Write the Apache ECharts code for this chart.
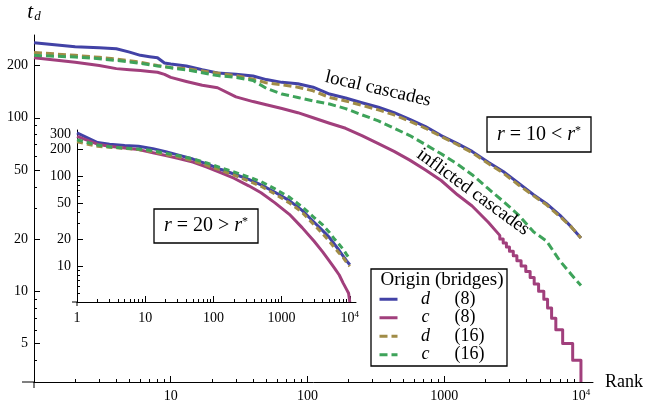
<!DOCTYPE html>
<html><head><meta charset="utf-8">
<script src="https://cdn.jsdelivr.net/npm/echarts@6/dist/echarts.min.js"></script>
<style>html,body{margin:0;padding:0;background:#fff}#c{width:650px;height:404px}</style>
</head><body><div id="c"></div>
<script>
const FONT = '"Liberation Serif", "DejaVu Serif", serif';

// ---- main panel (r = 10 < r*) ----
const mainRanks = [1,2,3,4,5,6,7,8,9,10,13,17,22,30,40,50,65,85,110,145,190,250,330,430,560,730,950,1250,1600,2100,2700,3500,4500,5600,7000,8500,10000];
const mainD8  = [271,257,253,250,239,229,225,222,207,204,199,189,181,178,174,166,160,157,150,137,130,122,115,107,98,89,79,71,64,55.5,49,42,36,32,27.5,23.5,20.3];
const mainD16 = [238,229,223,218,213,209,204,200,197,195,192,186,181,175,167,159,155,150,143,131,125,118,111,104,95.5,87,78,70,63,54.5,48,41,35.5,31.5,27,23.5,20.3];
const mainC16 = [229,224,219,214,210,206,202,199,197,194,189,182,175,171,164,148,137,131,125,120,113,104,96,87,79,70,62,54,47,39,33,27.5,22,19.5,15,12.5,10.8];
const mainC8Ranks = [1,2,3,4,5,6,7,8,9,10,13,17,22,30,40,50,65,85,110,145,190,250,330,430,560,730,950,1250,1600,2100,2420,2550,2550,2700,2700,2850,2850,3000,3000,3200,3200,3400,3400,3650,3650,3950,3950,4250,4250,4550,4550,4900,4900,5350,5350,5700,5700,6100,6100,6550,6550,7350,7350,8700,8700,10000,10000];
const mainC8 = [222,209,200,192,189,187,185,183,178,171,162,154,149,132,124,119,113,107,100,93,87,79,71,64,57,50,43.5,36,31,25,22,21,20,20,19,19,18,18,17,17,16,16,15,15,14,14,13,13,12,12,11,11,10,10,9,9,8,8,7,7,6,6,5,5,4,4,3];

// ---- inset panel (r = 20 > r*) ----
const insetRanks = [1,2,3,5,8,13,20,30,50,80,130,200,330,500,800,1300,2000,3000,4000,5000,6000,7000,8000,9000,10000];
const insetD8  = [307,240,230,222,218,205,190,175,157,139,120,107,93,81,67,54,42,31,25,21,17.5,15,13,11.5,10.4];
const insetD16 = [244,218,212,206,200,190,175,167,150,134,117,104,89,78,64,51,40,29,23,19,16,14,12.5,11,10];
const insetC16 = [258,225,215,208,203,195,182,172,158,142,125,113,99,88,73,59,46,35,29,24,20,17.5,15.5,13.5,12];
const insetC8Ranks = [1,2,3,5,8,13,20,30,50,80,130,200,330,500,800,1300,2000,3000,4000,5000,6000,7000,8000,9000,9600,10000];
const insetC8 = [281,230,218,208,200,185,172,160,145,128,110,96,79,66,51,38,27,19,14.5,11.5,9.5,8,6.5,5.5,5,4];

// ---- ticks ----
const mainXLabels = [10,100,1000,10000];
const mainYLabels = [5,10,20,50,100,200];
const mainYMinor = [3,4,6,7,8,9,30,40,60,70,80,90];
const insetXLabels = [1,10,100,1000,10000];
const insetXMajor = [10,100,1000,10000];
const insetYLabels = [10,20,50,100,200,300];
const insetYMinor = [5,6,7,8,9,30,40,60,70,80,90];
const xMinor = [2,3,4,5,6,7,8,9,20,30,40,50,60,70,80,90,200,300,400,500,600,700,800,900,2000,3000,4000,5000,6000,7000,8000,9000];

const seriesNames = ['d (8)','c (8)','d (16)','c (16)'];
const colors = ['#4242a6','#a13f7c','#a08c47','#3ea35a'];

const zip = (xs, ys) => xs.map((x, i) => [x, ys[i]]);

const labelRich = {
  b: {fontFamily: FONT, fontSize: 14, color: '#000', lineHeight: 16},
  s: {fontFamily: FONT, fontSize: 9, color: '#000', verticalAlign: 'top', lineHeight: 9}
};
const fmtX = v => v === 10000 ? '{b|10}{s|4}' : '{b|' + v + '}';

function xPair(grid, min, max, labels, major, extra) {
  return [
    Object.assign({
      type: 'log', gridIndex: grid, min: min, max: max, position: 'bottom',
      axisLine: {show: true, lineStyle: {color: '#000', width: 1}},
      axisTick: {show: true, inside: true, length: 6, customValues: major, lineStyle: {color: '#000'}},
      axisLabel: {show: true, customValues: labels, formatter: fmtX, margin: 6, rich: labelRich},
      splitLine: {show: false}
    }, extra || {}),
    {
      type: 'log', gridIndex: grid, min: min, max: max, position: 'bottom',
      axisLine: {show: false},
      axisTick: {show: true, inside: true, length: 3, customValues: xMinor, lineStyle: {color: '#000'}},
      axisLabel: {show: false},
      splitLine: {show: false}
    }
  ];
}
function yPair(grid, min, max, labels, minor, extra) {
  return [
    Object.assign({
      type: 'log', gridIndex: grid, min: min, max: max, position: 'left',
      axisLine: {show: true, lineStyle: {color: '#000', width: 1}},
      axisTick: {show: true, inside: true, length: 6, customValues: labels, lineStyle: {color: '#000'}},
      axisLabel: {show: true, customValues: labels, margin: 6, color: '#000', fontFamily: FONT, fontSize: 14},
      splitLine: {show: false}
    }, extra || {}),
    {
      type: 'log', gridIndex: grid, min: min, max: max, position: 'left',
      axisLine: {show: false},
      axisTick: {show: true, inside: true, length: 3, customValues: minor, lineStyle: {color: '#000'}},
      axisLabel: {show: false},
      splitLine: {show: false}
    }
  ];
}

const mainData = [zip(mainRanks, mainD8), zip(mainC8Ranks, mainC8), zip(mainRanks, mainD16), zip(mainRanks, mainC16)];
const insetData = [zip(insetRanks, insetD8), zip(insetC8Ranks, insetC8), zip(insetRanks, insetD16), zip(insetRanks, insetC16)];

function mkSeries(idx, data, axis, dash) {
  return {
    name: seriesNames[idx], type: 'line', xAxisIndex: axis, yAxisIndex: axis,
    data: data, symbol: 'none', showSymbol: false, silent: true, z: 3 + idx,
    lineStyle: {color: colors[idx], width: 3, type: idx >= 2 ? dash : 'solid', cap: 'butt', join: 'round'},
    itemStyle: {color: colors[idx]}
  };
}

const series = [];
for (let i = 0; i < 4; i++) series.push(mkSeries(i, mainData[i], 0, [8, 4]));
for (let i = 0; i < 4; i++) series.push(mkSeries(i, insetData[i], 2, [6, 4]));

const boxRich = {
  i: {fontFamily: FONT, fontSize: 20, fontStyle: 'italic', color: '#000'},
  n: {fontFamily: FONT, fontSize: 20, color: '#000'},
  s: {fontFamily: FONT, fontSize: 12, color: '#000', verticalAlign: 'top', lineHeight: 12}
};
function boxGroup(x, y, w, h, text) {
  return {
    type: 'group', x: x, y: y, z: 20,
    children: [
      {type: 'rect', shape: {x: 0, y: 0, width: w, height: h}, style: {fill: '#fff', stroke: '#000', lineWidth: 1.3}},
      {type: 'text', x: w / 2, y: h / 2, style: {text: text, rich: boxRich, align: 'center', verticalAlign: 'middle', font: '20px ' + FONT}}
    ]
  };
}

const chart = echarts.init(document.getElementById('c'), null, {renderer: 'canvas'});
chart.setOption({
  animation: false,
  backgroundColor: '#fff',
  grid: [
    {left: 34, top: 35, width: 559, height: 347},
    {left: 77, top: 130, width: 279, height: 172}
  ],
  xAxis: [].concat(
    xPair(0, 1, 12250, mainXLabels, mainXLabels, {
      name: 'Rank', nameLocation: 'end', nameGap: 12,
      nameTextStyle: {fontFamily: FONT, fontSize: 18, color: '#000', verticalAlign: 'middle'}
    }),
    xPair(1, 1, 12330, insetXLabels, insetXMajor, {axisLabel: {show: true, customValues: insetXLabels, formatter: fmtX, margin: 8, rich: labelRich}})
  ),
  yAxis: [].concat(
    yPair(0, 3, 300, mainYLabels, mainYMinor, {
      name: '{t|t}{d|d}', nameLocation: 'end', nameGap: 12,
      nameTextStyle: {rich: {
        t: {fontFamily: FONT, fontSize: 21, fontStyle: 'italic', color: '#000'},
        d: {fontFamily: FONT, fontSize: 13, fontStyle: 'italic', color: '#000', verticalAlign: 'bottom', padding: [0, 0, 0, 1]}
      }}
    }),
    yPair(1, 4, 331, insetYLabels, insetYMinor)
  ),
  legend: {
    data: seriesNames, orient: 'vertical', left: 378, top: 290, padding: 0,
    itemWidth: 18, itemHeight: 10, itemGap: 0, selectedMode: false,
    itemStyle: {opacity: 0},
    lineStyle: {width: 3},
    formatter: name => {
      const parts = name.split(' ');
      return '{i|' + parts[0] + '}{n|' + parts[1] + '}';
    },
    textStyle: {
      fontFamily: FONT, fontSize: 18, color: '#000', lineHeight: 18.5,
      rich: {
        i: {fontFamily: FONT, fontSize: 18, fontStyle: 'italic', width: 46, align: 'right', color: '#000', lineHeight: 18.5},
        n: {fontFamily: FONT, fontSize: 18, color: '#000', padding: [0, 0, 0, 6], lineHeight: 18.5}
      }
    }
  },
  graphic: [
    {type: 'line', shape: {x1: 22, y1: 382, x2: 34, y2: 382}, style: {stroke: '#000', lineWidth: 1}},
    {type: 'line', shape: {x1: 34, y1: 382, x2: 34, y2: 388}, style: {stroke: '#000', lineWidth: 1}},
    {type: 'line', shape: {x1: 72, y1: 302, x2: 77, y2: 302}, style: {stroke: '#000', lineWidth: 1}},
    {type: 'line', shape: {x1: 77, y1: 302, x2: 77, y2: 306}, style: {stroke: '#000', lineWidth: 1}},
    {type: 'text', x: 378, y: 89, rotation: -13 * Math.PI / 180, z: 20,
      style: {text: 'local cascades', font: '19px ' + FONT, fill: '#000', align: 'center', verticalAlign: 'middle'}},
    {type: 'text', x: 473, y: 192, rotation: -36 * Math.PI / 180, z: 20,
      style: {text: 'inflicted cascades', font: '19px ' + FONT, fill: '#000', align: 'center', verticalAlign: 'middle'}},
    boxGroup(487, 117, 104, 35, '{i|r}{n| = 10 < }{i|r}{s|*}'),
    boxGroup(154, 209, 104, 34, '{i|r}{n| = 20 > }{i|r}{s|*}'),
    {type: 'rect', z: 1, shape: {x: 371, y: 269, width: 136, height: 97}, style: {fill: '#fff', stroke: '#000', lineWidth: 1.3}},
    {type: 'text', x: 442, y: 280, z: 20,
      style: {text: 'Origin (bridges)', font: '19px ' + FONT, fill: '#000', align: 'center', verticalAlign: 'middle'}}
  ],
  series: series
});
</script>
</body></html>
